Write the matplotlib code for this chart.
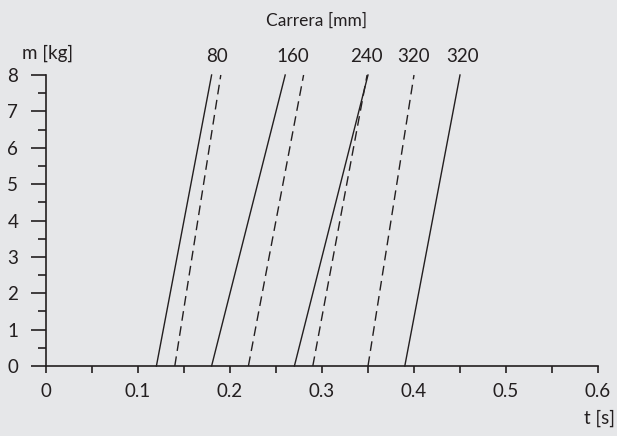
import matplotlib
matplotlib.use("Agg")
import matplotlib.pyplot as plt
from matplotlib.ticker import MultipleLocator

# stroke curves: time [s] at m=0 and at m=8
massRange = [0, 8]
solidStart = [0.12, 0.18, 0.27, 0.39]
solidEnd = [0.18, 0.26, 0.35, 0.45]
dashedStart = [0.14, 0.22, 0.29, 0.35]
dashedEnd = [0.19, 0.28, 0.349, 0.40]

strokeLabels = ["80", "160", "240", "320", "320"]
strokeLabelPos = [0.186, 0.268, 0.348, 0.399, 0.453]

bg = "#e6e7e9"
ink = "#231f20"
fs = 13.5

plt.rcParams['font.family'] = ['Lato', 'DejaVu Sans']

fig = plt.figure(figsize=(6.17, 4.36), dpi=100, facecolor=bg)
ax = fig.add_axes([46 / 617, 1 - 366 / 436, 552 / 617, 291 / 436])
ax.set_facecolor(bg)

for s, e in zip(solidStart, solidEnd):
    ax.plot([s, e], massRange, color=ink, lw=1.0, clip_on=False)
for s, e in zip(dashedStart, dashedEnd):
    ax.plot([s, e], massRange, color=ink, lw=1.0, dashes=(7, 4), clip_on=False)

ax.set_xlim(0, 0.6)
ax.set_ylim(0, 8)
for side in ["top", "right"]:
    ax.spines[side].set_visible(False)
for side in ["left", "bottom"]:
    ax.spines[side].set_color(ink)
    ax.spines[side].set_linewidth(1.2)

ax.xaxis.set_minor_locator(MultipleLocator(0.05))
ax.yaxis.set_major_locator(MultipleLocator(1))
ax.yaxis.set_minor_locator(MultipleLocator(0.5))
ax.set_xticks([0, 0.1, 0.2, 0.3, 0.4, 0.5, 0.6])
ax.set_xticklabels(["0", "0.1", "0.2", "0.3", "0.4", "0.5", "0.6"])
ax.tick_params(axis="x", which="both", length=5, width=1.2, color=ink,
               labelsize=fs, labelcolor=ink, pad=7)
ax.tick_params(axis="y", which="major", length=11, width=1.2, color=ink,
               labelsize=fs, labelcolor=ink, pad=9)
ax.tick_params(axis="y", which="minor", length=6, width=1.2, color=ink)

for lab, x in zip(strokeLabels, strokeLabelPos):
    ax.text(x, 8.5, lab, ha="center", va="center", fontsize=fs, color=ink)

fig.text(317 / 617, 1 - 21 / 436, "Carrera [mm]", ha="center", va="center",
         fontsize=12.5, color=ink)
fig.text(22 / 617, 1 - 53 / 436, "m [kg]", ha="left", va="center",
         fontsize=fs, color=ink)
fig.text(615 / 617, 1 - 418 / 436, "t [s]", ha="right", va="center",
         fontsize=fs, color=ink)

fig.savefig("out.png", dpi=100, facecolor=bg)
